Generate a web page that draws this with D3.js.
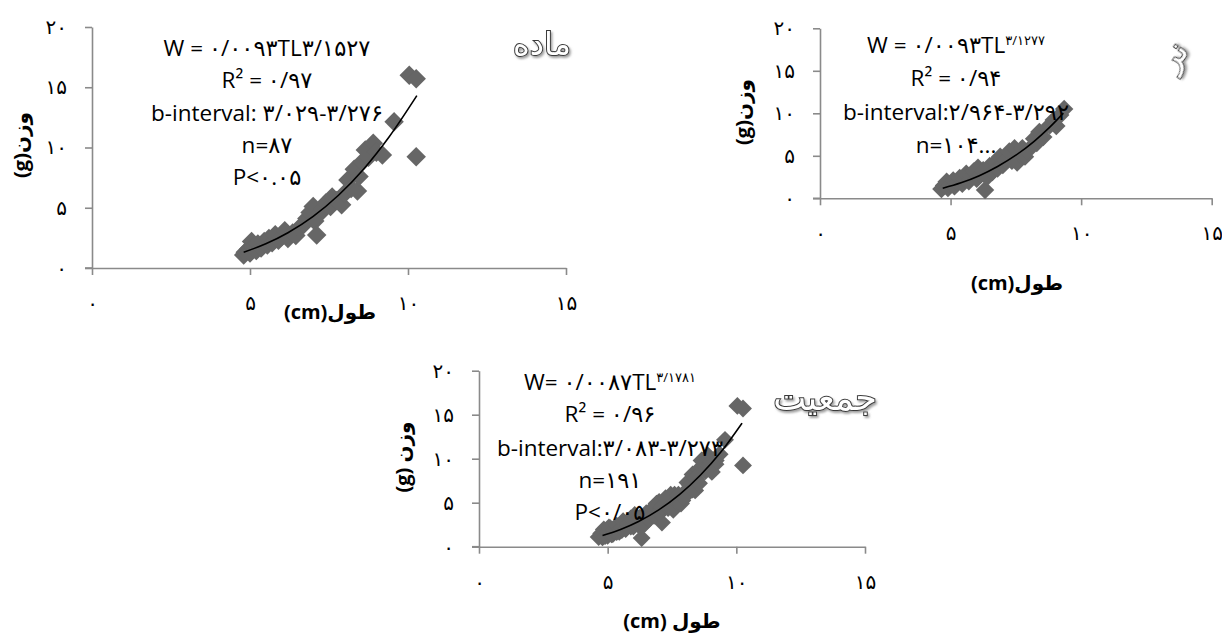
<!DOCTYPE html>
<html><head><meta charset="utf-8">
<script src="https://cdn.jsdelivr.net/npm/d3@7"></script>
<style>
html,body{margin:0;padding:0;background:#fff;}
svg{display:block;}
</style></head>
<body>
<svg id="chart" width="1222" height="637"></svg>
<script>
// ---------- data ----------
const xTicks = [0, 5, 10, 15];
const yTicks = [0, 5, 10, 15, 20];
const xTickLabels = ["۰", "۵", "۱۰", "۱۵"];
const yTickLabels = ["۰", "۵", "۱۰", "۱۵", "۲۰"];

// female (ماده)
const femaleL = [4.80,4.85,4.95,5.00,5.05,5.10,5.20,5.25,5.35,5.45,5.55,5.60,5.70,5.80,5.90,6.00,6.10,6.20,6.35,6.45,6.55,6.70,6.80,6.90,7.00,7.05,7.11,7.20,7.30,7.40,7.55,7.60,7.75,7.90,8.00,8.10,8.20,8.30,8.40,8.45,8.55,8.65,8.75,8.90,9.00,9.19,9.56,10.04,10.26,10.26];
const femaleW = [1.08,1.30,1.55,1.25,2.20,1.75,1.45,2.00,1.65,2.20,1.90,2.45,2.10,2.75,2.30,2.60,3.10,2.45,2.90,2.70,3.30,3.60,4.10,4.60,5.10,3.90,2.74,4.50,4.90,5.40,5.10,5.90,5.60,5.25,6.20,7.30,6.60,8.20,6.40,7.60,8.80,9.80,9.20,10.35,9.60,9.38,12.14,16.00,15.70,9.24];
const femaleTrendL = [4.8, 5.5, 6.2, 7.0, 7.8, 8.6, 9.4, 10.28];
const femaleTrendW = [1.31, 2.01, 2.93, 4.29, 6.04, 8.22, 10.87, 14.3];

// male (نر)
const maleL = [4.65,4.75,4.85,4.90,5.00,5.10,5.15,5.25,5.35,5.45,5.55,5.60,5.70,5.80,5.90,6.00,6.05,6.15,6.25,6.32,6.40,6.50,6.60,6.70,6.80,6.90,7.00,7.10,7.25,7.35,7.45,7.55,7.65,7.75,7.85,7.95,8.20,8.30,8.40,8.55,8.80,8.95,9.05,9.20,9.35];
const maleW = [1.10,1.50,1.95,1.20,1.60,2.10,1.40,1.85,2.40,1.70,2.20,2.90,2.00,2.60,3.20,2.30,3.60,2.80,3.30,0.98,2.50,3.80,3.10,4.20,3.50,4.90,3.90,4.50,5.50,4.40,5.90,4.20,5.20,5.90,4.90,5.60,7.00,6.50,7.80,7.20,8.60,9.20,8.50,9.80,10.50];
const maleTrendL = [4.7, 5.4, 6.1, 6.8, 7.5, 8.2, 8.8, 9.32];
const maleTrendW = [1.18, 1.82, 2.66, 3.74, 5.07, 6.71, 8.37, 10.02];

// population (جمعیت) = female + male
const allL = femaleL.concat(maleL);
const allW = femaleW.concat(maleW);
const allTrendL = [4.8, 5.5, 6.2, 7.0, 7.8, 8.6, 9.4, 10.22];
const allTrendW = [1.27, 1.96, 2.87, 4.22, 5.95, 8.12, 10.76, 14.04];

const femaleNotes = [["W = ۰/۰۰۹۳TL۳/۱۵۲۷", ""], ["R² = ۰/۹۷", ""], ["b-interval: ۳/۰۲۹-۳/۲۷۶", ""], ["n=۸۷", ""], ["P<۰.۰۵", ""]];
const maleNotes = [["W = ۰/۰۰۹۳TL", "۳/۱۲۷۷"], ["R² = ۰/۹۴", ""], ["b-interval:۲/۹۶۴-۳/۲۹۲", ""], ["n=۱۰۴...", ""]];
const allNotes = [["W= ۰/۰۰۸۷TL", "۳/۱۷۸۱"], ["R² = ۰/۹۶", ""], ["b-interval:۳/۰۸۳-۳/۲۷۳", ""], ["n=۱۹۱", ""], ["P<۰/۰۵", ""]];

const titles = ["ماده", "نر", "جمعیت"];
const xTitles = ["طول(cm)", "طول(cm)", "طول (cm)"];
const yTitles = ["وزن(g)", "وزن(g)", "وزن (g)"];

// ---------- layout ----------
const panels = [
  { L: femaleL, W: femaleW, tL: femaleTrendL, tW: femaleTrendW, notes: femaleNotes, title: titles[0], xt: xTitles[0], yt: yTitles[0],
    left: 92, right: 566, bottom: 268, top: 27, msize: 190,
    noteX: 267, noteY: [48, 80, 113, 145, 177],
    xtPos: [330, 319], ytPos: [21, 145], titlePos: [542, 55], titleSize: 32, titleRot: 0 },
  { L: maleL, W: maleW, tL: maleTrendL, tW: maleTrendW, notes: maleNotes, title: titles[1], xt: xTitles[1], yt: yTitles[1],
    left: 820, right: 1211.7, bottom: 198.3, top: 28.3, msize: 170,
    noteX: 956, noteY: [45, 78, 112, 145],
    xtPos: [1017, 290], ytPos: [743, 112], titlePos: [1182, 62], titleSize: 32, titleRot: -55 },
  { L: allL, W: allW, tL: allTrendL, tW: allTrendW, notes: allNotes, title: titles[2], xt: xTitles[2], yt: yTitles[2],
    left: 479, right: 865, bottom: 546.7, top: 370.7, msize: 160,
    noteX: 610, noteY: [382, 414, 448, 480, 512],
    xtPos: [672, 628], ytPos: [403, 457], titlePos: [825, 410], titleSize: 35, titleRot: 0 }
];

const svg = d3.select("#chart");
const axisColor = "#8a8a8a";
const markerColor = "#666666";
const numFont = "'DejaVu Sans', sans-serif";
const textFont = "'Open Sans', 'DejaVu Sans', sans-serif";

// soft shadow for the outlined panel titles
const f = svg.append("defs").append("filter").attr("id", "shadow")
  .attr("x", "-20%").attr("y", "-20%").attr("width", "140%").attr("height", "160%");
f.append("feDropShadow").attr("dx", 1.5).attr("dy", 2).attr("stdDeviation", 1.2)
  .attr("flood-color", "#888").attr("flood-opacity", 0.8);

panels.forEach(p => {
  const x = d3.scaleLinear().domain([0, 15]).range([p.left, p.right]);
  const y = d3.scaleLinear().domain([0, 20]).range([p.bottom, p.top]);
  const g = svg.append("g");

  // axes
  const xa = g.append("g").attr("transform", `translate(0,${p.bottom})`)
    .call(d3.axisBottom(x).tickValues(xTicks).tickFormat((d, i) => xTickLabels[i]).tickSize(7).tickSizeOuter(0).tickPadding(21));
  const ya = g.append("g").attr("transform", `translate(${p.left},0)`)
    .call(d3.axisLeft(y).tickValues(yTicks).tickFormat((d, i) => yTickLabels[i]).tickSize(7).tickSizeOuter(0).tickPadding(18));
  [xa, ya].forEach(a => {
    a.select(".domain").attr("stroke", axisColor).attr("stroke-width", 1.6);
    a.selectAll(".tick line").attr("stroke", axisColor).attr("stroke-width", 1.6);
    a.selectAll(".tick text").attr("fill", "#000").style("font-family", numFont).style("font-size", "20px");
  });
  g.append("line").attr("x1", p.left - 7).attr("x2", p.left).attr("y1", p.bottom).attr("y2", p.bottom)
    .attr("stroke", axisColor).attr("stroke-width", 1.6);

  // markers
  const sym = d3.symbol().type(d3.symbolSquare).size(p.msize);
  g.append("g").selectAll("path").data(p.L.map((l, i) => [l, p.W[i]])).join("path")
    .attr("d", sym)
    .attr("transform", d => `translate(${x(d[0])},${y(d[1])}) rotate(45)`)
    .attr("fill", markerColor);

  // trend line
  const line = d3.line().x(d => x(d[0])).y(d => y(d[1])).curve(d3.curveMonotoneX);
  g.append("path").datum(p.tL.map((l, i) => [l, p.tW[i]]))
    .attr("d", line).attr("fill", "none").attr("stroke", "#000").attr("stroke-width", 1.6);

  // annotations
  p.notes.forEach((n, i) => {
    const t = g.append("text").attr("x", p.noteX).attr("y", p.noteY[i]).attr("dy", "0.35em")
      .attr("text-anchor", "middle").style("font-family", textFont).style("font-size", "22.5px").attr("fill", "#000");
    t.append("tspan").text(n[0]);
    if (n[1]) t.append("tspan").attr("dy", "-0.6em").style("font-size", "13px").text(n[1]);
  });

  // axis titles
  g.append("text").attr("x", p.xtPos[0]).attr("y", p.xtPos[1]).attr("text-anchor", "middle")
    .attr("direction", "rtl").style("direction", "rtl")
    .style("font-family", textFont).style("font-weight", "bold").style("font-size", "20px").text(p.xt);
  g.append("text").attr("transform", `translate(${p.ytPos[0]},${p.ytPos[1]}) rotate(-90)`).attr("dy", "0.35em")
    .attr("text-anchor", "middle").attr("direction", "rtl").style("direction", "rtl")
    .style("font-family", textFont).style("font-weight", "bold").style("font-size", "20px").text(p.yt);

  // panel title (outlined, with shadow)
  g.append("text").attr("transform", `translate(${p.titlePos[0]},${p.titlePos[1]}) rotate(${p.titleRot})`)
    .attr("text-anchor", "middle").attr("direction", "rtl").style("direction", "rtl")
    .style("font-family", "'DejaVu Sans', sans-serif").style("font-size", p.titleSize + "px")
    .attr("fill", "#fff").attr("stroke", "#3a3a3a").attr("stroke-width", 2).attr("paint-order", "stroke")
    .attr("filter", "url(#shadow)").text(p.title);
});
</script>
</body></html>
